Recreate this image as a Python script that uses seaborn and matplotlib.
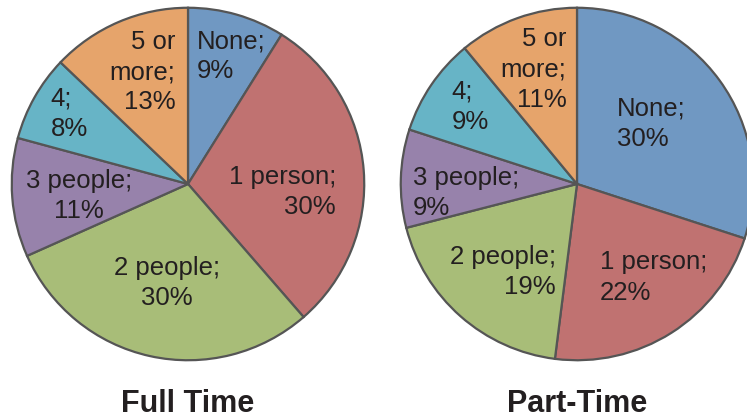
import matplotlib
matplotlib.use('Agg')
import matplotlib.pyplot as plt
import seaborn as sns
import pandas as pd

sns.set_theme(style='white')
plt.rcParams['font.family'] = ['Liberation Sans', 'DejaVu Sans']

categories = ['None', '1 person', '2 people', '3 people', '4', '5 or more']
label_names = ['None;', '1 person;', '2 people;', '3 people;', '4;', '5 or\nmore;']
full_time = [9, 30, 30, 11, 8, 13]
part_time = [30, 22, 19, 9, 9, 11]
titles = ['Full Time', 'Part-Time']

df = pd.DataFrame({'category': categories, 'Full Time': full_time, 'Part-Time': part_time})

colors = ['#7098c2', '#c07271', '#a8bd78', '#9782ab', '#67b4c6', '#e6a46b']

# label anchors relative to pie centre (unit radius) + alignment
label_layout = {
    'Full Time': [(0.05, 0.725, 'left'), (0.84, -0.045, 'right'), (-0.12, -0.56, 'center'),
                  (-0.62, -0.07, 'center'), (-0.78, 0.40, 'left'), (-0.07, 0.635, 'right')],
    'Part-Time': [(0.225, 0.34, 'left'), (0.13, -0.53, 'left'), (-0.12, -0.50, 'right'),
                  (-0.93, -0.05, 'left'), (-0.71, 0.44, 'left'), (-0.06, 0.65, 'right')],
}

W, H = 747, 420
fig = plt.figure(figsize=(W / 100, H / 100), dpi=100)
centers_x = [188, 577]
cy = 184
R = 178

for col, cx in zip(titles, centers_x):
    ax = fig.add_axes([(cx - R) / W, (H - cy - R) / H, 2 * R / W, 2 * R / H])
    ax.pie(df[col], colors=colors, startangle=90, counterclock=False, radius=1,
           wedgeprops=dict(edgecolor='#555555', linewidth=1.6))
    ax.set_xlim(-1.01, 1.01)
    ax.set_ylim(-1.01, 1.01)
    ax.set_aspect('equal')
    ax.axis('off')
    for name, val, (x, y, ha) in zip(label_names, df[col], label_layout[col]):
        ax.text(x, y, f'{name}\n{val}%', ha=ha, va='center', multialignment=ha,
                fontsize=18.5, color='#231f20', linespacing=1.33)
    fig.text(cx / W, 1 - 412 / H, col, ha='center', va='baseline',
             fontsize=22, fontweight='bold', color='#231f20')

fig.savefig('out.png', dpi=100)
